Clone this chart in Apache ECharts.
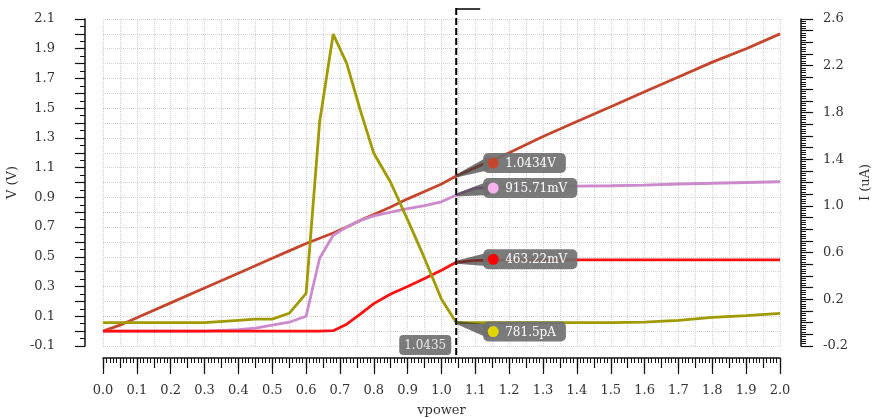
<!DOCTYPE html>
<html>
<head>
<meta charset="utf-8">
<script src="https://cdn.jsdelivr.net/npm/echarts@6/dist/echarts.min.js"></script>
<style>
html, body { margin: 0; padding: 0; background: #fff; }
#main { width: 876px; height: 418px; }
</style>
</head>
<body>
<div id="main"></div>
<script>
// sweep points of vpower
var xs = [0, 0.05, 0.1, 0.2, 0.3, 0.4, 0.45, 0.5, 0.55, 0.6, 0.64, 0.68, 0.72, 0.76, 0.8, 0.85, 0.9, 0.95, 1.0, 1.0435,
          1.1, 1.2, 1.3, 1.4, 1.5, 1.6, 1.7, 1.8, 1.9, 2.0];
// voltages (V), left axis
var vBrown = [0.0, 0.04, 0.09, 0.19, 0.29, 0.39, 0.44, 0.49, 0.54, 0.59, 0.625, 0.66, 0.7, 0.745, 0.785, 0.835, 0.89, 0.94, 0.99, 1.0434,
              1.1, 1.2, 1.31, 1.41, 1.51, 1.61, 1.71, 1.81, 1.9, 2.0];
var vPink = [0.0, 0.0, 0.0, 0.0, 0.0, 0.01, 0.02, 0.04, 0.06, 0.1, 0.49, 0.645, 0.7, 0.745, 0.775, 0.8, 0.825, 0.845, 0.87, 0.91571,
             0.962, 0.968, 0.972, 0.975, 0.978, 0.983, 0.99, 0.995, 1.0, 1.005];
var vRed = [0.0, 0.0, 0.0, 0.0, 0.0, 0.0, 0.0, 0.0, 0.0, 0.0, 0.0, 0.003, 0.047, 0.115, 0.185, 0.25, 0.3, 0.354, 0.41, 0.46322,
            0.476, 0.478, 0.478, 0.479, 0.479, 0.479, 0.48, 0.48, 0.48, 0.48];
// current (uA), right axis
var iOlive = [0.0, 0.0, 0.0, 0.0, 0.0, 0.02, 0.03, 0.03, 0.08, 0.25, 1.72, 2.47, 2.22, 1.82, 1.45, 1.2, 0.88, 0.55, 0.2, 0.0007815,
              0.0, 0.0, 0.0, 0.0, 0.0, 0.005, 0.02, 0.045, 0.06, 0.08];

// cursor readout
var cursorX = 1.0435;
var cursorText = '1.0435';
var markText = ['1.0434V', '915.71mV', '463.22mV', '781.5pA'];
var markVal = [1.0434, 0.91571, 0.46322, 0.0007815];

var FONT = 'DejaVu Serif';
var lineColors = ['#c4472d', '#cc8acc', '#ff1010', '#a09a00'];
var dotColors = ['#c4472d', '#f7b2ee', '#ff0000', '#e2d600'];
var boxShift = [-13, -7, -3, 9];
var boxFill = 'rgba(112,112,112,0.92)';
var gridLine = {show: true, lineStyle: {type: 'dotted', color: '#d2d2d2'}};

var ctx = document.createElement('canvas').getContext('2d');
function textWidth(s, size) {
    ctx.font = size + 'px "' + FONT + '"';
    return ctx.measureText(s).width;
}

function pairs(v) {
    var res = [];
    for (var i = 0; i < xs.length; i++) {
        res.push([xs[i], v[i]]);
    }
    return res;
}

function renderMark(params, api) {
    var k = api.value(2);
    var p = api.coord([api.value(0), api.value(1)]);
    var x0 = p[0] + 27;
    var cy = p[1] + boxShift[k];
    var w = 32 + textWidth(markText[k], 12);
    return {
        type: 'group',
        children: [
            {type: 'polygon', shape: {points: [[p[0], p[1] - 1.5], [x0 + 6, cy - 7], [x0 + 6, cy + 7], [p[0], p[1] + 1.5]]},
             style: {fill: 'rgba(60,60,60,0.7)'}},
            {type: 'rect', shape: {x: x0, y: cy - 10, width: w, height: 20, r: 5}, style: {fill: boxFill}},
            {type: 'circle', shape: {cx: x0 + 10, cy: cy, r: 5.5}, style: {fill: dotColors[k]}},
            {type: 'text', x: x0 + 22, y: cy + 1,
             style: {text: markText[k], fill: '#fff', font: '12px "' + FONT + '"', verticalAlign: 'middle'}}
        ]
    };
}

function renderCursor(params, api) {
    var top = api.coord([api.value(0), 2.1]);
    var bot = api.coord([api.value(0), -0.1]);
    var x = top[0];
    return {
        type: 'group',
        children: [
            {type: 'line', shape: {x1: x, y1: top[1] - 11, x2: x, y2: bot[1] + 12},
             style: {stroke: '#000', lineWidth: 2, lineDash: [7, 3]}},
            {type: 'line', shape: {x1: x, y1: top[1] - 10, x2: x + 24, y2: top[1] - 10},
             style: {stroke: '#000', lineWidth: 1.5}},
            {type: 'rect', shape: {x: x - 57, y: bot[1] - 11, width: 52, height: 20, r: 4}, style: {fill: boxFill}},
            {type: 'text', x: x - 31, y: bot[1] - 0.5,
             style: {text: cursorText, fill: '#e8e8e8', font: '12px "' + FONT + '"', align: 'center', verticalAlign: 'middle'}}
        ]
    };
}

var axisText = {fontFamily: FONT, fontSize: 13, color: '#333'};
var black = {color: '#111', width: 1.5};

var myChart = echarts.init(document.getElementById('main'));

option = {
    animation: false,
    grid: {left: 103, right: 96, top: 19, bottom: 72, outerBoundsMode: 'none', containLabel: false},
    xAxis: [
        {
            type: 'value', min: 0, max: 2, interval: 0.1, position: 'bottom', offset: 12,
            name: 'vpower', nameLocation: 'middle', nameGap: 46,
            nameTextStyle: axisText,
            axisLine: {onZero: false, lineStyle: black},
            axisTick: {length: 16, lineStyle: {color: '#111', width: 1.2}},
            minorTick: {show: true, splitNumber: 10, length: 5, lineStyle: {color: '#111'}},
            axisLabel: Object.assign({margin: 26, formatter: function (v) { return v.toFixed(1); }}, axisText),
            splitLine: {show: false}
        },
        {
            type: 'value', min: 0, max: 2, interval: 0.05, position: 'bottom', offset: 12,
            axisLine: {show: false, onZero: false},
            axisTick: {length: 10, lineStyle: {color: '#111', width: 1.2}},
            axisLabel: {show: false},
            splitLine: gridLine
        }
    ],
    yAxis: [
        {
            type: 'value', min: -0.1, max: 2.1, interval: 0.1, position: 'left', offset: 18,
            name: 'V (V)', nameLocation: 'middle', nameGap: 62, nameTextStyle: axisText,
            axisLine: {show: true, onZero: false, lineStyle: black},
            axisTick: {length: 10, lineStyle: {color: '#111', width: 1.2}},
            minorTick: {show: true, splitNumber: 2, length: 5, lineStyle: {color: '#111'}},
            axisLabel: Object.assign({margin: 30, formatter: function (v) {
                var k = Math.round(v * 10);
                return k % 2 !== 0 ? v.toFixed(1) : '';
            }}, axisText),
            splitLine: gridLine
        },
        {
            type: 'value', min: -0.2, max: 2.6, interval: 0.1, position: 'right', offset: 21,
            name: 'I (uA)', nameLocation: 'middle', nameGap: 57, nameRotate: 90, nameTextStyle: axisText,
            axisLine: {show: true, onZero: false, lineStyle: black},
            axisTick: {length: 12, lineStyle: {color: '#111', width: 1.2}},
            minorTick: {show: true, splitNumber: 5, length: 5, lineStyle: {color: '#111'}},
            axisLabel: Object.assign({margin: 22, formatter: function (v) {
                var k = Math.round(v * 10);
                return (k + 2) % 4 === 0 ? v.toFixed(1) : '';
            }}, axisText),
            splitLine: {show: false}
        }
    ],
    series: [
        {type: 'line', name: 'vpower', data: pairs(vBrown), showSymbol: false, lineStyle: {width: 2.8, color: lineColors[0]}},
        {type: 'line', name: 'v2', data: pairs(vPink), showSymbol: false, lineStyle: {width: 2.8, color: lineColors[1]}},
        {type: 'line', name: 'v3', data: pairs(vRed), showSymbol: false, lineStyle: {width: 2.8, color: lineColors[2]}},
        {type: 'line', name: 'I', yAxisIndex: 1, data: pairs(iOlive), showSymbol: false, lineStyle: {width: 2.8, color: lineColors[3]}},
        {type: 'custom', renderItem: renderCursor, data: [[cursorX, 0]], z: 10, silent: true},
        {type: 'custom', renderItem: renderMark, z: 11, silent: true,
         data: [[cursorX, markVal[0], 0], [cursorX, markVal[1], 1], [cursorX, markVal[2], 2]]},
        {type: 'custom', renderItem: renderMark, yAxisIndex: 1, z: 11, silent: true,
         data: [[cursorX, markVal[3], 3]]}
    ]
};

myChart.setOption(option);
</script>
</body>
</html>
